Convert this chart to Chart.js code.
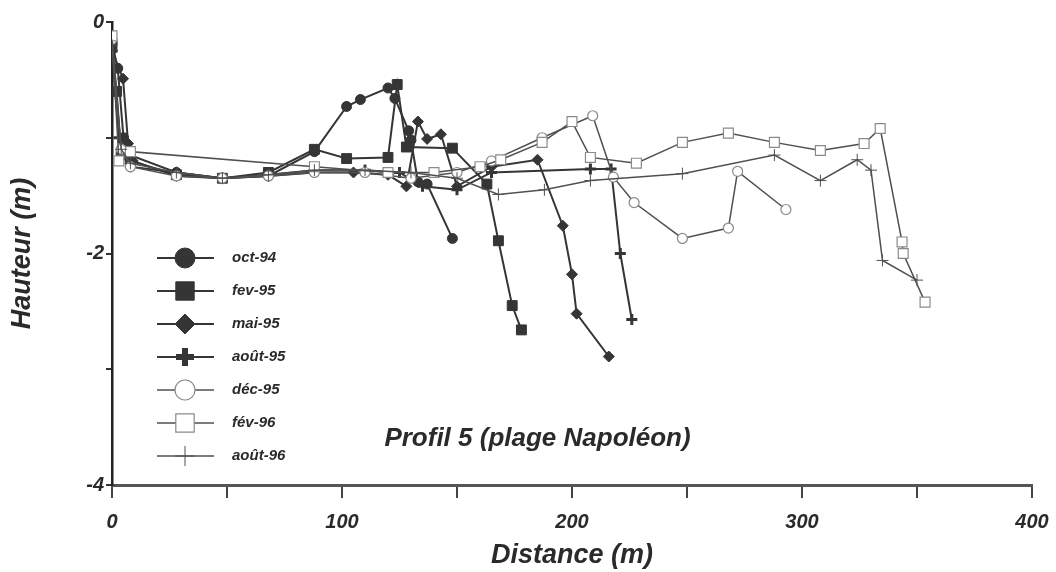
<!DOCTYPE html>
<html>
<head>
<meta charset="utf-8">
<script src="https://cdn.jsdelivr.net/npm/chart.js@4.4.1/dist/chart.umd.min.js"></script>
<style>
  html, body { margin: 0; padding: 0; background: #ffffff; }
  #wrap { width: 1056px; height: 572px; position: relative; }
</style>
</head>
<body>
<div id="wrap"><canvas id="c" width="1056" height="572"></canvas></div>
<script>
// ---- Data (distance in m, height in m) ----
const seriesNames = ['oct-94', 'fev-95', 'mai-95', 'août-95', 'déc-95', 'fév-96', 'août-96'];

const oct94X = [0, 2.5, 5, 8, 28, 48, 68, 88, 102, 108, 120, 123, 129, 130, 133, 137, 148];
const oct94Y = [-0.18, -0.4, -1.0, -1.15, -1.3, -1.35, -1.33, -1.12, -0.73, -0.67, -0.57, -0.66, -0.94, -1.02, -1.38, -1.4, -1.87];

const fev95X = [0, 2, 4, 8, 28, 48, 68, 88, 102, 120, 124, 128, 148, 163, 168, 174, 178];
const fev95Y = [-0.2, -0.6, -1.15, -1.2, -1.32, -1.35, -1.3, -1.1, -1.18, -1.17, -0.54, -1.08, -1.09, -1.4, -1.89, -2.45, -2.66];

const mai95X = [0, 4.8, 7, 9, 28, 48, 68, 88, 105, 120, 128, 133, 137, 143, 150, 165, 185, 196, 200, 202, 216];
const mai95Y = [-0.25, -0.49, -1.05, -1.2, -1.33, -1.35, -1.33, -1.3, -1.3, -1.32, -1.42, -0.86, -1.01, -0.97, -1.42, -1.25, -1.19, -1.76, -2.18, -2.52, -2.89];

const aou95X = [0, 3, 8, 28, 48, 68, 88, 110, 125, 135, 150, 165, 208, 217, 221, 226];
const aou95Y = [-0.25, -1.0, -1.25, -1.3, -1.35, -1.32, -1.28, -1.28, -1.3, -1.42, -1.45, -1.3, -1.27, -1.27, -2.0, -2.57];

const dec95X = [0, 4, 8, 28, 48, 68, 88, 110, 130, 150, 165, 187, 209, 218, 227, 248, 268, 272, 293];
const dec95Y = [-0.15, -1.1, -1.25, -1.33, -1.35, -1.33, -1.3, -1.3, -1.35, -1.3, -1.2, -1.0, -0.81, -1.34, -1.56, -1.87, -1.78, -1.29, -1.62];

const fev96X = [0, 3, 8, 88, 120, 140, 160, 169, 187, 200, 208, 228, 248, 268, 288, 308, 327, 334, 343.5, 344, 353.5];
const fev96Y = [-0.12, -1.2, -1.12, -1.25, -1.3, -1.3, -1.25, -1.19, -1.04, -0.86, -1.17, -1.22, -1.04, -0.96, -1.04, -1.11, -1.05, -0.92, -1.9, -2.0, -2.42];

const aou96X = [0, 4, 8, 28, 48, 68, 88, 110, 130, 150, 168, 188, 208, 248, 288, 308, 324, 330, 335, 350];
const aou96Y = [-0.2, -1.1, -1.22, -1.3, -1.35, -1.32, -1.28, -1.28, -1.3, -1.35, -1.49, -1.45, -1.37, -1.31, -1.15, -1.37, -1.19, -1.28, -2.06, -2.23];

const xTicksMajor = [0, 100, 200, 300, 400];
const yTicksMajor = [0, -2, -4];
const chartTitle = 'Profil 5 (plage Napoléon)';

// ---- Build datasets ----
const pts = (xs, ys) => xs.map((x, i) => ({ x: x, y: ys[i] }));
const FONT = '"Liberation Sans", Arial, sans-serif';
const dark = '#353535';
const lightLine = '#505050';
const lightMark = '#8a8a8a';

const styles = [
  { pointStyle: 'circle',  radius: 5, legR: 10, fill: dark, stroke: dark, bw: 1, lw: 2, line: dark },
  { pointStyle: 'rect',    radius: 7, legR: 13, fill: dark, stroke: dark, bw: 1, lw: 2, line: dark },
  { pointStyle: 'rectRot', radius: 5.5, legR: 10, fill: dark, stroke: dark, bw: 1, lw: 2, line: dark },
  { pointStyle: 'cross',   radius: 5.5, legR: 9, fill: dark, stroke: dark, bw: 3, lw: 2, line: dark },
  { pointStyle: 'circle',  radius: 5, legR: 10, fill: '#ffffff', stroke: lightMark, bw: 1.2, lw: 1.5, line: lightLine },
  { pointStyle: 'rect',    radius: 7, legR: 13, fill: '#ffffff', stroke: lightMark, bw: 1.2, lw: 1.5, line: lightLine },
  { pointStyle: 'cross',   radius: 6, legR: 10, fill: lightLine, stroke: lightLine, bw: 1, lw: 1.5, line: lightLine }
];
const seriesData = [
  pts(oct94X, oct94Y), pts(fev95X, fev95Y), pts(mai95X, mai95Y), pts(aou95X, aou95Y),
  pts(dec95X, dec95Y), pts(fev96X, fev96Y), pts(aou96X, aou96Y)
];
const datasets = seriesData.map((d, i) => ({
  label: seriesNames[i],
  data: d,
  showLine: true,
  borderColor: styles[i].line,
  borderWidth: styles[i].lw,
  pointStyle: styles[i].pointStyle,
  pointRadius: styles[i].radius,
  pointBackgroundColor: styles[i].fill,
  pointBorderColor: styles[i].stroke,
  pointBorderWidth: styles[i].bw,
  tension: 0
})).reverse();

// ---- Custom legend + title plugin ----
const decorPlugin = {
  id: 'decor',
  afterDraw(chart) {
    const ctx = chart.ctx;
    const xs = chart.scales.x, ys = chart.scales.y;
    ctx.save();
    const x0 = 157, x1 = 214, xm = 185, tx = 232;
    const rowY = [258, 291, 324, 357, 390, 423, 456];
    seriesNames.forEach((name, i) => {
      const s = styles[i];
      const y = rowY[i];
      ctx.beginPath();
      ctx.strokeStyle = s.line;
      ctx.lineWidth = s.lw;
      ctx.moveTo(x0, y); ctx.lineTo(x1, y);
      ctx.stroke();
      ctx.fillStyle = s.fill;
      ctx.strokeStyle = s.stroke;
      ctx.lineWidth = i === 3 ? 6 : s.bw;
      Chart.helpers.drawPoint(ctx, {
        pointStyle: s.pointStyle, radius: s.legR, rotation: 0,
        borderWidth: i === 3 ? 6 : s.bw
      }, xm, y);
      ctx.fillStyle = '#2a2a2a';
      ctx.font = 'italic bold 15px ' + FONT;
      ctx.textAlign = 'left';
      ctx.textBaseline = 'middle';
      ctx.fillText(name, tx, y);
    });
    ctx.fillStyle = '#2a2a2a';
    ctx.font = 'italic bold 26px ' + FONT;
    ctx.textAlign = 'center';
    ctx.textBaseline = 'middle';
    ctx.fillText(chartTitle, xs.getPixelForValue(185), ys.getPixelForValue(-3.6));
    ctx.restore();
  }
};

new Chart(document.getElementById('c'), {
  type: 'scatter',
  data: { datasets: datasets },
  options: {
    responsive: false,
    animation: false,
    layout: { padding: { top: 22, right: 24, left: 0, bottom: 0 } },
    plugins: { legend: { display: false }, tooltip: { enabled: false }, title: { display: false } },
    scales: {
      x: {
        type: 'linear', min: 0, max: 400, position: 'bottom',
        afterFit: (s) => { s.height = 87; s.paddingLeft = 0; s.paddingRight = 0; },
        afterBuildTicks: (s) => { s.ticks = [0, 50, 100, 150, 200, 250, 300, 350, 400].map(v => ({ value: v })); },
        ticks: {
          callback: (v) => xTicksMajor.includes(v) ? String(v) : '',
          color: '#2a2a2a', padding: 12, maxRotation: 0, autoSkip: false,
          font: { family: FONT, size: 20, style: 'italic', weight: 'bold' }
        },
        grid: { drawOnChartArea: false, drawTicks: true, tickLength: 13, color: '#444', lineWidth: 2 },
        border: { display: true, color: '#555', width: 3 },
        title: {
          display: true, text: 'Distance (m)', color: '#2a2a2a', padding: { top: 0, bottom: 0 },
          font: { family: FONT, size: 27, style: 'italic', weight: 'bold' }
        }
      },
      y: {
        type: 'linear', min: -4, max: 0, position: 'left',
        afterFit: (s) => { s.width = 112; s.paddingTop = 0; s.paddingBottom = 0; },
        afterBuildTicks: (s) => { s.ticks = [-4, -3, -2, -1, 0].map(v => ({ value: v })); },
        ticks: {
          callback: (v) => yTicksMajor.includes(v) ? String(v) : '',
          color: '#2a2a2a', padding: 2, autoSkip: false,
          font: { family: FONT, size: 20, style: 'italic', weight: 'bold' }
        },
        grid: { drawOnChartArea: false, drawTicks: true, tickLength: 6, color: '#333', lineWidth: 2 },
        border: { display: true, color: '#222', width: 2.5 },
        title: {
          display: true, text: 'Hauteur (m)', color: '#2a2a2a', padding: { top: 6, bottom: 0 },
          font: { family: FONT, size: 27, style: 'italic', weight: 'bold' }
        }
      }
    }
  },
  plugins: [decorPlugin]
});
</script>
</body>
</html>
